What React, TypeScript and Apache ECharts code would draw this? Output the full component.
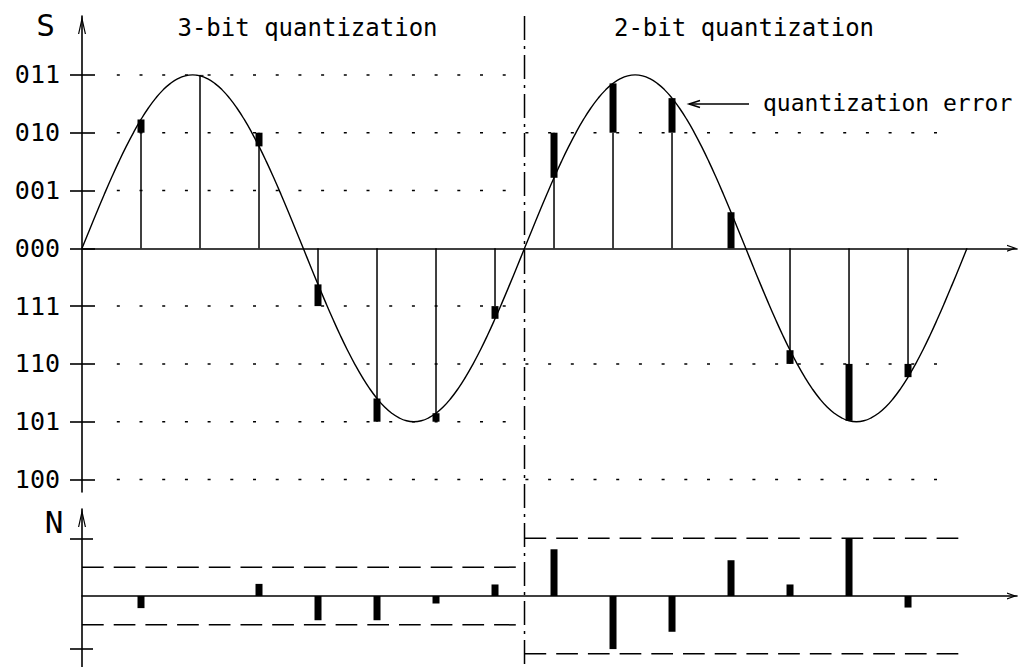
import React, { useEffect, useRef } from 'react';
import * as echarts from 'echarts';

// ---------- data ----------
const levelValues = [3, 2, 1, 0, -1, -2, -3, -4];
const levelLabels = ['011', '010', '001', '000', '111', '110', '101', '100'];
const dottedLevels = [3, 2, 1, -1, -2, -3, -4];
const dottedEnds = [7.5, 14.78, 7.5, 7.5, 14.78, 7.5, 14.78];
const dottedStart = 0.59;

// analog signal S, read every 1/8 of a sample interval
const curveStep = 0.125;
const curveS = [
  0, 0.314, 0.624, 0.927, 1.22, 1.5, 1.763, 2.007, 2.229, 2.427, 2.598, 2.741, 2.853, 2.934, 2.984,
  3, 2.984, 2.934, 2.853, 2.741, 2.598, 2.427, 2.229, 2.007, 1.763, 1.5, 1.22, 0.927, 0.624, 0.314,
  0, -0.314, -0.624, -0.927, -1.22, -1.5, -1.763, -2.007, -2.229, -2.427, -2.598, -2.741, -2.853, -2.934, -2.984,
  -3, -2.984, -2.934, -2.853, -2.741, -2.598, -2.427, -2.229, -2.007, -1.763, -1.5, -1.22, -0.927, -0.624, -0.314,
  0, 0.314, 0.624, 0.927, 1.22, 1.5, 1.763, 2.007, 2.229, 2.427, 2.598, 2.741, 2.853, 2.934, 2.984,
  3, 2.984, 2.934, 2.853, 2.741, 2.598, 2.427, 2.229, 2.007, 1.763, 1.5, 1.22, 0.927, 0.624, 0.314,
  0, -0.314, -0.624, -0.927, -1.22, -1.5, -1.763, -2.007, -2.229, -2.427, -2.598, -2.741, -2.853, -2.934, -2.984,
  -3, -2.984, -2.934, -2.853, -2.741, -2.598, -2.427, -2.229, -2.007, -1.763, -1.5, -1.22, -0.927, -0.624, -0.314,
  0,
];

const sampleK = [1, 2, 3, 4, 5, 6, 7, 8, 9, 10, 11, 12, 13, 14];
const sampleS = [2.229, 2.984, 1.763, -0.624, -2.598, -2.853, -1.22, 1.22, 2.853, 2.598, 0.624, -1.763, -2.984, -2.229];
const sampleQ = [2, 3, 2, -1, -3, -3, -1, 2, 2, 2, 0, -2, -2, -2];
const noiseN = [-0.21, 0, 0.21, -0.42, -0.42, -0.13, 0.2, 0.81, -0.92, -0.62, 0.62, 0.2, 1.0, -0.2];

const boundStart = [0, 0, 7.5, 7.5];
const boundEnd = [7.5, 7.5, 15, 15];
const boundValue = [0.5, -0.5, 1, -1];
const nTicks = [1, -0.92];
const dividerK = 7.5;

// ---------- layout ----------
const X_MAX = 15.847;
const FONT = '"DejaVu Sans Mono", monospace';
const BLACK = '#000';
const ARROW_Y = 'path://M4 0 L8 18 L6.8 18 L4 5.4 L1.2 18 L0 18 Z';
const ARROW_X = 'path://M3.5 0 L7 10 L5.8 10 L3.5 3.43 L1.2 10 L0 10 Z';

function xAxisCfg(gridIndex: number, show: boolean) {
  return {
    type: 'value',
    gridIndex,
    min: 0,
    max: X_MAX,
    show,
    axisLine: {
      show,
      onZero: true,
      lineStyle: { color: BLACK, width: 1.6 },
      symbol: ['none', ARROW_X],
      symbolSize: [7, 10],
      symbolOffset: [0, -5],
    },
    axisTick: { show: false },
    axisLabel: { show: false },
    splitLine: { show: false },
  };
}

export default function App() {
  const ref = useRef<HTMLDivElement>(null);

  useEffect(() => {
    if (!ref.current) return;
    const chart = echarts.init(ref.current, null, { renderer: 'svg' });

    const dottedData = dottedLevels.map((v, i) => [dottedStart, dottedEnds[i], v]);
    const boundData = boundValue.map((v, i) => [boundStart[i], boundEnd[i], v]);
    const sampleData = sampleK.map((k, i) => [k, sampleQ[i], sampleS[i]]);
    const noiseData = sampleK.map((k, i) => [k, noiseN[i]]);
    const curveData = curveS.map((v, i) => [i * curveStep, v]);

    const option: any = {
      animation: false,
      backgroundColor: '#fff',
      grid: [
        { left: 82, top: 16, width: 935, height: 476, containLabel: false, outerBoundsMode: 'none' },
        { left: 82, top: 509, width: 935, height: 158, containLabel: false, outerBoundsMode: 'none' },
        { left: 82, top: 0, width: 935, height: 667, containLabel: false, outerBoundsMode: 'none' },
      ],
      xAxis: [xAxisCfg(0, true), xAxisCfg(1, true), xAxisCfg(2, false)],
      yAxis: [
        {
          type: 'value', gridIndex: 0, position: 'left', min: -4.216, max: 4.019,
          axisLine: {
            show: true, onZero: false,
            lineStyle: { color: BLACK, width: 1.6 },
            symbol: ['none', ARROW_Y], symbolSize: [8, 18], symbolOffset: [0, -9],
          },
          axisTick: { show: true, length: 12, lineStyle: { color: BLACK, width: 1.6 }, customValues: levelValues },
          axisLabel: {
            show: true, customValues: levelValues, margin: 22, color: BLACK,
            fontFamily: FONT, fontSize: 25,
            formatter: (v: number) => {
              const i = levelValues.indexOf(Math.round(v));
              return i >= 0 ? levelLabels[i] : '';
            },
          },
          splitLine: { show: false },
        },
        {
          type: 'value', gridIndex: 0, position: 'left', offset: 0, min: -4.216, max: 4.019,
          axisLine: { show: false, onZero: false },
          axisTick: { show: true, inside: true, length: 13, lineStyle: { color: BLACK, width: 1.6 }, customValues: levelValues },
          axisLabel: { show: false },
          splitLine: { show: false },
        },
        {
          type: 'value', gridIndex: 1, position: 'left', min: -1.2305, max: 1.508,
          axisLine: {
            show: true, onZero: false,
            lineStyle: { color: BLACK, width: 1.6 },
            symbol: ['none', ARROW_Y], symbolSize: [8, 18], symbolOffset: [0, -9],
          },
          axisTick: { show: true, length: 12, lineStyle: { color: BLACK, width: 1.6 }, customValues: nTicks },
          axisLabel: { show: false },
          splitLine: { show: false },
        },
        {
          type: 'value', gridIndex: 1, position: 'left', offset: 0, min: -1.2305, max: 1.508,
          axisLine: { show: false, onZero: false },
          axisTick: { show: true, inside: true, length: 11, lineStyle: { color: BLACK, width: 1.6 }, customValues: nTicks },
          axisLabel: { show: false },
          splitLine: { show: false },
        },
        { type: 'value', gridIndex: 2, min: 0, max: 667, show: false, splitLine: { show: false } },
      ],
      series: [
        {
          type: 'custom', name: 'levels', xAxisIndex: 0, yAxisIndex: 0, data: dottedData,
          renderItem: (_p: any, api: any) => {
            const a = api.coord([api.value(0), api.value(2)]);
            const b = api.coord([api.value(1), api.value(2)]);
            return {
              type: 'line',
              shape: { x1: a[0], y1: a[1], x2: b[0], y2: b[1] },
              style: { stroke: BLACK, lineWidth: 1.5, lineDash: [3, 19.7] },
            };
          },
        },
        {
          type: 'line', name: 'signal', xAxisIndex: 0, yAxisIndex: 0, data: curveData,
          smooth: true, symbol: 'none', lineStyle: { color: BLACK, width: 1.4 },
        },
        {
          type: 'custom', name: 'samples', xAxisIndex: 0, yAxisIndex: 0, data: sampleData,
          renderItem: (_p: any, api: any) => {
            const k = api.value(0), q = api.value(1), s = api.value(2);
            const base = api.coord([k, 0]);
            const pq = api.coord([k, q]);
            const ps = api.coord([k, s]);
            const top = Math.min(pq[1], ps[1]);
            const h = Math.abs(pq[1] - ps[1]);
            return {
              type: 'group',
              children: [
                { type: 'line', shape: { x1: base[0], y1: base[1], x2: pq[0], y2: pq[1] }, style: { stroke: BLACK, lineWidth: 1.5 } },
                { type: 'rect', shape: { x: pq[0] - 3.5, y: top, width: 7, height: Math.max(h, 0.01) }, style: { fill: BLACK } },
              ],
            };
          },
        },
        {
          type: 'custom', name: 'bounds', xAxisIndex: 1, yAxisIndex: 2, data: boundData,
          renderItem: (_p: any, api: any) => {
            const a = api.coord([api.value(0), api.value(2)]);
            const b = api.coord([api.value(1), api.value(2)]);
            return {
              type: 'line',
              shape: { x1: a[0], y1: a[1], x2: b[0], y2: b[1] },
              style: { stroke: BLACK, lineWidth: 1.5, lineDash: [21.7, 10] },
            };
          },
        },
        {
          type: 'custom', name: 'noise', xAxisIndex: 1, yAxisIndex: 2, data: noiseData,
          renderItem: (_p: any, api: any) => {
            const k = api.value(0), n = api.value(1);
            const p0 = api.coord([k, 0]);
            const p1 = api.coord([k, n]);
            return {
              type: 'rect',
              shape: { x: p0[0] - 3.5, y: Math.min(p0[1], p1[1]), width: 7, height: Math.max(Math.abs(p0[1] - p1[1]), 0.01) },
              style: { fill: BLACK },
            };
          },
        },
        {
          type: 'line', name: 'divider', xAxisIndex: 2, yAxisIndex: 4,
          data: [[dividerK, 651], [dividerK, 0]],
          symbol: 'none', lineStyle: { color: BLACK, width: 1.5, type: [24, 6, 3, 6] },
        },
      ],
      graphic: [
        { type: 'text', x: 45.5, y: 25, style: { text: 'S', fontFamily: FONT, fontSize: 31, fill: BLACK, align: 'center', verticalAlign: 'middle' } },
        { type: 'text', x: 54, y: 522, style: { text: 'N', fontFamily: FONT, fontSize: 31, fill: BLACK, align: 'center', verticalAlign: 'middle' } },
        { type: 'text', x: 307.5, y: 27.5, style: { text: '3-bit quantization', fontFamily: FONT, fontSize: 24, fill: BLACK, align: 'center', verticalAlign: 'middle' } },
        { type: 'text', x: 744, y: 27.5, style: { text: '2-bit quantization', fontFamily: FONT, fontSize: 24, fill: BLACK, align: 'center', verticalAlign: 'middle' } },
        { type: 'text', x: 763, y: 103, style: { text: 'quantization error', fontFamily: FONT, fontSize: 23, fill: BLACK, align: 'left', verticalAlign: 'middle' } },
        { type: 'line', shape: { x1: 689, y1: 104, x2: 749, y2: 104 }, style: { stroke: BLACK, lineWidth: 1.5 } },
        { type: 'polyline', shape: { points: [[700, 100.5], [689, 104], [700, 107.5]] }, style: { stroke: BLACK, lineWidth: 1.5, fill: 'none' } },
      ],
    };

    chart.setOption(option);
    return () => chart.dispose();
  }, []);

  return (
    <div
      ref={ref}
      style={{ position: 'absolute', left: 0, top: 0, width: 1018, height: 667, background: '#fff' }}
    />
  );
}
